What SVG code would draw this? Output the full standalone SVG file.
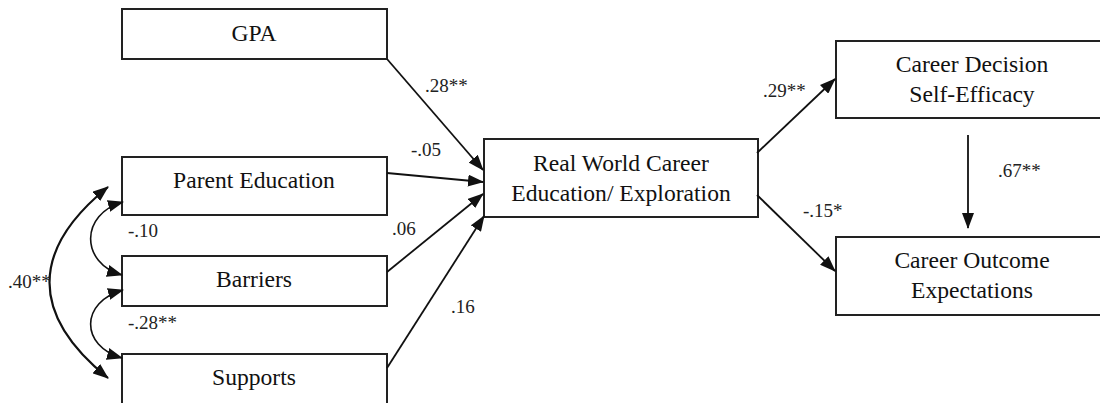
<svg xmlns="http://www.w3.org/2000/svg" width="1100" height="403" viewBox="0 0 1100 403">
<style>
.box{fill:#fff;stroke:#222;stroke-width:2}
.nt{font-family:'Liberation Serif','Times New Roman',Tinos,'DejaVu Serif',serif;font-size:23.6px;fill:#111;text-anchor:middle}
.lb{font-family:'Liberation Serif','Times New Roman',Tinos,'DejaVu Serif',serif;font-size:19px;fill:#222}
.ln{fill:none;stroke:#111;stroke-width:1.8}
.cv{fill:none;stroke:#111;stroke-width:1.6}
.cvb{fill:none;stroke:#111;stroke-width:2.2}
</style>
<defs>
<marker id="ah" markerUnits="userSpaceOnUse" markerWidth="16" markerHeight="12" refX="15" refY="6" orient="auto-start-reverse" viewBox="0 0 16 12">
<path d="M0,0 L16,6 L0,12 Z" fill="#111"/>
</marker>
</defs>
<rect width="1100" height="403" fill="#fff"/>
<g id="gpa"><rect class="box" x="122" y="9" width="265" height="50"/><text class="nt" x="254" y="41">GPA</text></g>
<g id="parent"><rect class="box" x="122" y="157" width="265" height="58"/><text class="nt" x="254" y="188">Parent Education</text></g>
<g id="barriers"><rect class="box" x="122" y="256" width="265" height="50"/><text class="nt" x="254" y="287">Barriers</text></g>
<g id="supports"><rect class="box" x="122" y="354" width="265" height="60"/><text class="nt" x="254" y="385">Supports</text></g>
<g id="rwce"><rect class="box" x="484" y="139" width="274" height="78"/><text class="nt" x="621" y="171">Real World Career</text><text class="nt" x="621" y="201">Education/ Exploration</text></g>
<g id="cdse"><rect class="box" x="836" y="41" width="274" height="77"/><text class="nt" x="972" y="72">Career Decision</text><text class="nt" x="972" y="102">Self-Efficacy</text></g>
<g id="coe"><rect class="box" x="836" y="237" width="274" height="78"/><text class="nt" x="972" y="268">Career Outcome</text><text class="nt" x="972" y="298">Expectations</text></g>
<g id="connectors">
<line class="ln" x1="387" y1="59" x2="483" y2="170" marker-end="url(#ah)"/>
<line class="ln" x1="387" y1="173" x2="483" y2="182" marker-end="url(#ah)"/>
<line class="ln" x1="387" y1="272" x2="483" y2="194" marker-end="url(#ah)"/>
<line class="ln" x1="387" y1="368" x2="484" y2="216" marker-end="url(#ah)"/>
<line class="ln" x1="757" y1="153" x2="835" y2="79" marker-end="url(#ah)"/>
<line class="ln" x1="757" y1="195" x2="835" y2="271" marker-end="url(#ah)"/>
<line class="ln" x1="968" y1="135" x2="968" y2="228" marker-end="url(#ah)"/>
<path class="cv" d="M123 202 C80 214 80 263 122 275" marker-start="url(#ah)" marker-end="url(#ah)"/>
<path class="cv" d="M123 290 C80 302 80 346 122 358" marker-start="url(#ah)" marker-end="url(#ah)"/>
<path class="cvb" d="M108 187 C30 250 30 315 108 378" marker-start="url(#ah)" marker-end="url(#ah)"/>
<text class="lb" x="425" y="92">.28**</text>
<text class="lb" x="411" y="156">-.05</text>
<text class="lb" x="392" y="235">.06</text>
<text class="lb" x="451" y="313">.16</text>
<text class="lb" x="128" y="237">-.10</text>
<text class="lb" x="128" y="329">-.28**</text>
<text class="lb" x="8" y="288">.40**</text>
<text class="lb" x="763" y="97">.29**</text>
<text class="lb" x="998" y="177">.67**</text>
<text class="lb" x="803" y="217">-.15*</text>
</g>
</svg>
